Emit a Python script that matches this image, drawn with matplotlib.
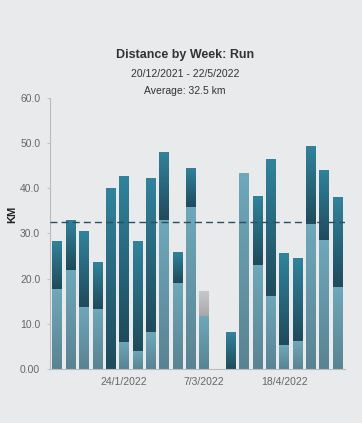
import matplotlib
matplotlib.use("Agg")
import matplotlib.pyplot as plt
import numpy as np
from matplotlib.colors import LinearSegmentedColormap

plt.rcParams["font.family"] = ["Liberation Sans", "DejaVu Sans"]

# weekly run distance (km), light = lower segment, total = bar height
totals = [28.3, 33.1, 30.5, 23.6, 40.0, 42.8, 28.3, 42.2, 48.1, 25.8, 44.6,
          17.2, 0.0, 8.2, 43.4, 38.2, 46.4, 25.6, 24.5, 49.4, 44.1, 38.0]
light = [17.7, 21.9, 13.8, 13.3, 0.0, 6.0, 4.0, 8.2, 32.9, 19.1, 35.8,
         11.7, 0.0, 0.0, 43.4, 23.0, 16.2, 5.3, 6.2, 32.0, 28.5, 18.1]
current_week = 11  # greyed top segment
tick_pos = [5, 11, 17]
tick_labels = ["24/1/2022", "7/3/2022", "18/4/2022"]
average = 32.5

bg = "#e9eaec"
dark_cm = LinearSegmentedColormap.from_list("d", ["#1f4b5b", "#31839c"])
light_cm = LinearSegmentedColormap.from_list("l", ["#5a8392", "#6ea8ba"])
grey_cm = LinearSegmentedColormap.from_list("g", ["#a8a8ab", "#c8c8ca"])

fig = plt.figure(figsize=(3.62, 4.23), dpi=100, facecolor=bg)
ax = fig.add_axes([0.138, 0.128, 0.815, 0.64], facecolor=bg)

x = np.arange(len(totals))
tops = np.array(totals) - np.array(light)
b1 = ax.bar(x, light, width=0.72, color="none", edgecolor="none")
b2 = ax.bar(x, tops, bottom=light, width=0.72, color="none", edgecolor="none")

grad = np.linspace(0, 1, 100).reshape(-1, 1)


def fill_gradient(patch, cmap):
    w, h = patch.get_width(), patch.get_height()
    if h <= 0:
        return
    x0, y0 = patch.get_x(), patch.get_y()
    im = ax.imshow(grad, cmap=cmap, aspect="auto", origin="lower",
                   extent=[x0, x0 + w, y0, y0 + h], zorder=2)
    im.set_clip_path(patch)


for p in b1:
    fill_gradient(p, light_cm)
for i, p in enumerate(b2):
    fill_gradient(p, grey_cm if i == current_week else dark_cm)

ax.axhline(average, color="#2a4f60", lw=1, ls=(0, (5, 3)), zorder=3)

ax.set_xlim(-0.55, len(totals) - 0.45)
ax.set_ylim(0, 60)
ax.set_yticks([0, 10, 20, 30, 40, 50, 60])
ax.set_yticklabels(["0.00", "10.0", "20.0", "30.0", "40.0", "50.0", "60.0"])
ax.set_xticks(tick_pos)
ax.set_xticklabels(tick_labels)
ax.tick_params(axis="both", labelsize=7.5, colors="#666666", length=0, pad=6)
ax.tick_params(axis="y", length=2, width=0.6, color="#bbbbbb", pad=5)
for s in ["top", "right"]:
    ax.spines[s].set_visible(False)
ax.spines["left"].set_color("#bbbbbb")
ax.spines["bottom"].set_color("#bbbbbb")
ax.spines["left"].set_linewidth(0.8)
ax.spines["bottom"].set_linewidth(0.8)
ax.set_ylabel("KM", fontsize=8, fontweight="bold", color="#222222")
ax.yaxis.set_label_coords(-0.11, 0.57)

fig.text(0.511, 0.870, "Distance by Week: Run", ha="center", va="center",
         fontsize=9, fontweight="bold", color="#333333")
fig.text(0.511, 0.826, "20/12/2021 - 22/5/2022", ha="center", va="center",
         fontsize=7.5, color="#333333")
fig.text(0.511, 0.785, "Average: 32.5 km", ha="center", va="center",
         fontsize=7.5, color="#333333")

fig.savefig("out.png", dpi=100, facecolor=bg)
